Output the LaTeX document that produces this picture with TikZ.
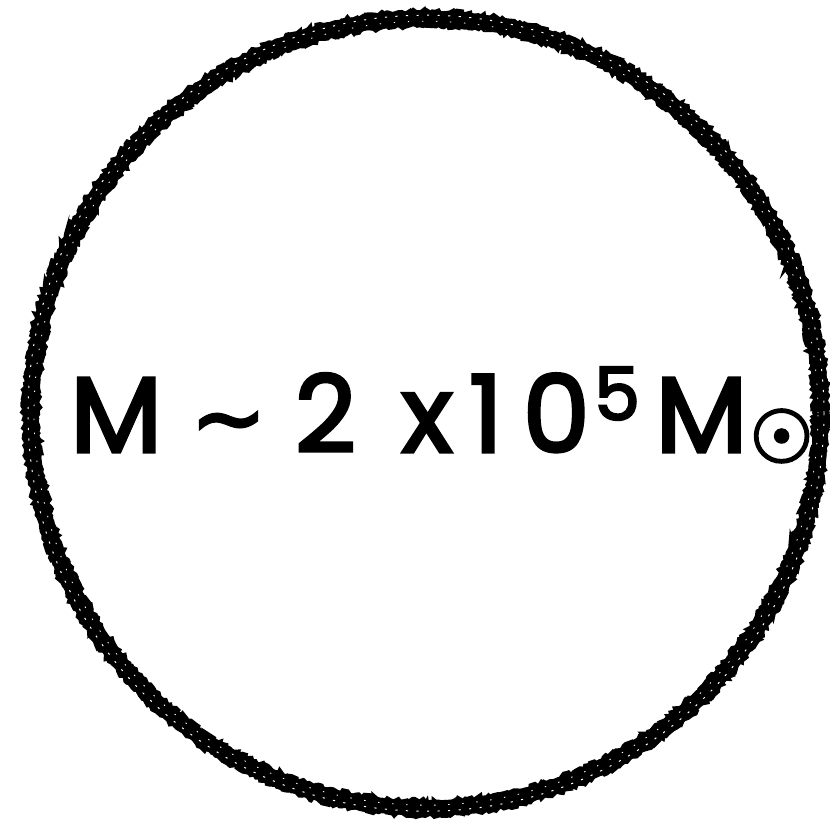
\documentclass[tikz,border=0pt]{standalone}
\usepackage{fontspec}
\setmainfont{Poppins}[FakeBold=3]
\newfontfamily\symfont{DejaVu Sans}[FakeBold=3]
\usetikzlibrary{decorations.pathmorphing}
\tikzset{
  rough/.style={line width=0.09cm, decorate,
    decoration={random steps, segment length=2pt, amplitude=1.5pt}},
  masslabel/.style={anchor=base west, inner sep=0pt, font=\fontsize{76}{76}\selectfont}
}
\begin{document}
\begin{tikzpicture}
\pgfmathsetseed{7}
\useasboundingbox (0,0) rectangle (20.75,20.7);
\coordinate (c) at (10.65,10.37);
% Draw the hand-drawn looking circle
\draw[line width=0.38cm] (c) circle (9.87);
\draw[rough] (c) circle (10.05);
\draw[rough] (c) circle (9.69);
% Add some white specks for texture
\draw[white, line width=0.7pt, dash pattern=on 1.5pt off 6pt] (c) circle (9.95);
\draw[white, line width=0.6pt, dash pattern=on 1pt off 9pt] (c) circle (9.8);
% Mass label
\node[masslabel] (mass) at (1.75,9.4)
  {M \raisebox{0.03em}{\symfont\fontsize{64}{64}\selectfont\char"223C} 2 \kern12pt x\kern11.5pt 1\kern14pt 0\kern3pt\raisebox{0.3em}{\fontsize{52}{52}\selectfont 5}\kern11pt M\kern1pt\raisebox{-0.1em}{\symfont\fontsize{52}{52}\selectfont ☉}};
\end{tikzpicture}
\end{document}
